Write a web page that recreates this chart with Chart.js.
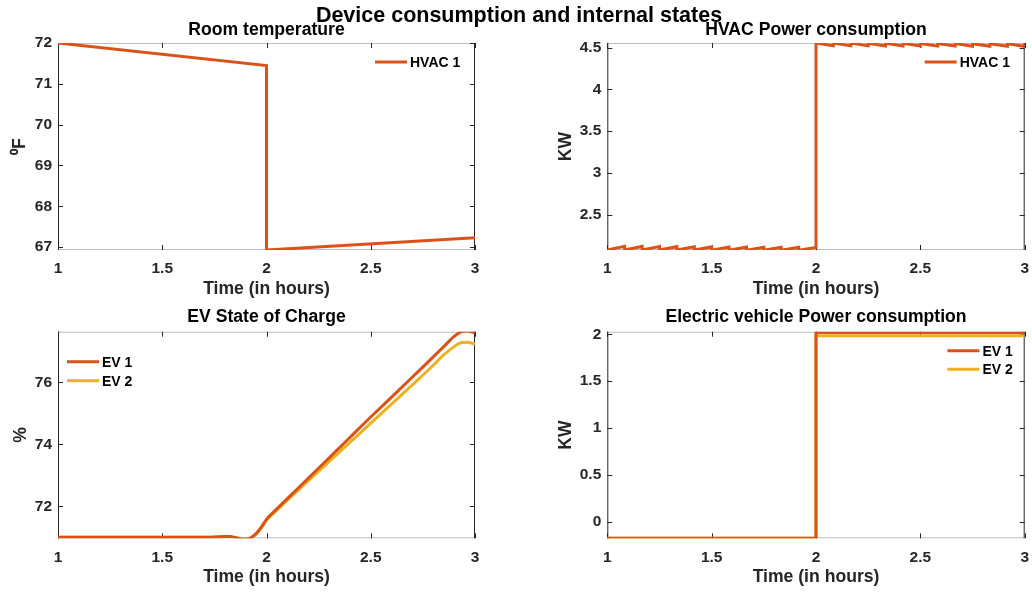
<!DOCTYPE html>
<html>
<head>
<meta charset="utf-8">
<script src="https://cdn.jsdelivr.net/npm/chart.js@4/dist/chart.umd.min.js"></script>
<style>
  html, body { margin: 0; padding: 0; background: #fff; }
  #fig { position: relative; width: 1032px; height: 594px; overflow: hidden; background: #fff; }
  #suptitle { position: absolute; left: 3px; top: 3px; width: 1032px; text-align: center;
    font: bold 21.5px "Liberation Sans", Arial, sans-serif; line-height: 24px; color: #000; z-index: 2; }
  .pane { position: absolute; }
</style>
</head>
<body>
<div id="fig">
  <div class="pane" style="left:0;top:0"><canvas id="room" width="533" height="300"></canvas></div>
  <div class="pane" style="left:516px;top:0"><canvas id="hvac" width="600" height="300"></canvas></div>
  <div class="pane" style="left:0;top:300px"><canvas id="soc" width="533" height="294"></canvas></div>
  <div class="pane" style="left:516px;top:300px"><canvas id="evp" width="600" height="294"></canvas></div>
  <div id="suptitle">Device consumption and internal states</div>
</div>
<script>
// ---- simulation output (time in hours) ----
const xTicks = [1, 1.5, 2, 2.5, 3];

// room temperature, HVAC 1 (deg F)
const roomTime = [1, 2, 2, 3];
const roomTemp = [72, 71.45, 66.93, 67.23];

// HVAC 1 power draw (kW), thermostat cycling every 5 minutes
const hvacTime = [1, 1.083, 1.083, 1.167, 1.167, 1.25, 1.25, 1.333, 1.333, 1.417, 1.417,
  1.5, 1.5, 1.583, 1.583, 1.667, 1.667, 1.75, 1.75, 1.833, 1.833, 1.917, 1.917, 2, 2,
  2.083, 2.083, 2.167, 2.167, 2.25, 2.25, 2.333, 2.333, 2.417, 2.417, 2.5, 2.5,
  2.583, 2.583, 2.667, 2.667, 2.75, 2.75, 2.833, 2.833, 2.917, 2.917, 3, 3];
const hvacPower = [2.075, 2.12, 2.075, 2.118, 2.075, 2.117, 2.074, 2.115, 2.074, 2.114, 2.074,
  2.112, 2.073, 2.111, 2.073, 2.11, 2.073, 2.109, 2.072, 2.108, 2.072, 2.107, 2.072, 2.106, 4.555,
  4.522, 4.555, 4.521, 4.554, 4.521, 4.553, 4.52, 4.552, 4.52, 4.551, 4.519, 4.55,
  4.518, 4.549, 4.518, 4.548, 4.517, 4.547, 4.516, 4.546, 4.516, 4.545, 4.515, 4.544];

// EV state of charge (%)
const socTime = [1, 1.5, 1.7, 1.78, 1.82, 1.86, 1.89, 1.92, 1.95, 1.98, 2.0, 2.05, 2.1,
  2.2, 2.3, 2.4, 2.5, 2.6, 2.7, 2.8, 2.85, 2.9, 2.93, 2.96, 3.0];
const ev1Soc = [71.0, 71.0, 71.0, 71.02, 71.03, 70.98, 70.94, 70.97, 71.12, 71.38, 71.58, 71.92, 72.25,
  72.9, 73.56, 74.22, 74.88, 75.52, 76.17, 76.82, 77.15, 77.48, 77.62, 77.65, 77.6];
const ev2Soc = [71.0, 71.0, 71.0, 71.02, 71.03, 70.98, 70.94, 70.97, 71.1, 71.35, 71.55, 71.88, 72.2,
  72.82, 73.44, 74.06, 74.68, 75.3, 75.92, 76.55, 76.88, 77.15, 77.27, 77.29, 77.24];

// EV charger power (kW)
const evTime = [1, 2, 2, 3];
const ev1Power = [-0.177, -0.177, 2.021, 2.021];
const ev2Power = [-0.177, -0.177, 1.985, 1.985];

const RED = '#D95319';
const YELLOW = '#EDB120';
const FONT = '"Liberation Sans", Arial, sans-serif';
const INK = '#262626';

Chart.defaults.font.family = FONT;
Chart.defaults.color = INK;

const pts = (t, v) => t.map((x, i) => ({ x, y: v[i] }));
const plainNum = v => String(Math.round(v * 1000) / 1000);

// axes box with inward tick marks on all four sides
const boxPlugin = {
  id: 'axesBox',
  beforeDatasetsDraw(chart) {
    const { ctx, chartArea: a, scales: { x, y } } = chart;
    ctx.save();
    ctx.lineWidth = 1;
    ctx.strokeStyle = '#bcbcbc';
    ctx.beginPath();
    ctx.moveTo(a.left, a.top + 0.5); ctx.lineTo(a.right, a.top + 0.5);
    ctx.moveTo(a.left, a.bottom - 0.5); ctx.lineTo(a.right, a.bottom - 0.5);
    ctx.stroke();
    ctx.strokeStyle = INK;
    ctx.beginPath();
    ctx.moveTo(a.left + 0.5, a.top); ctx.lineTo(a.left + 0.5, a.bottom);
    ctx.moveTo(a.right - 0.5, a.top); ctx.lineTo(a.right - 0.5, a.bottom);
    x.ticks.forEach(t => {
      const px = Math.round(x.getPixelForValue(t.value)) + 0.5;
      ctx.moveTo(px, a.bottom); ctx.lineTo(px, a.bottom - 5);
      ctx.moveTo(px, a.top); ctx.lineTo(px, a.top + 5);
    });
    y.ticks.forEach(t => {
      const py = Math.round(y.getPixelForValue(t.value)) + 0.5;
      ctx.moveTo(a.left, py); ctx.lineTo(a.left + 5, py);
      ctx.moveTo(a.right, py); ctx.lineTo(a.right - 5, py);
    });
    ctx.stroke();
    ctx.restore();
  }
};

// line-sample legend placed inside the axes
const legendPlugin = {
  id: 'insideLegend',
  afterDatasetsDraw(chart, args, opts) {
    const { ctx, chartArea: a } = chart;
    const x0 = opts.fromRight != null ? a.right - opts.fromRight : a.left + opts.fromLeft;
    ctx.save();
    ctx.font = 'bold 14px ' + FONT;
    ctx.textBaseline = 'middle';
    ctx.textAlign = 'left';
    chart.data.datasets.forEach((ds, i) => {
      const yy = a.top + opts.top + i * opts.step;
      ctx.strokeStyle = ds.borderColor;
      ctx.lineWidth = 3;
      ctx.beginPath(); ctx.moveTo(x0, yy); ctx.lineTo(x0 + 32, yy); ctx.stroke();
      ctx.fillStyle = '#000';
      ctx.fillText(ds.label, x0 + 35, yy + 1);
    });
    ctx.restore();
  }
};

function makePanel(id, g) {
  const datasets = g.series.map(s => ({
    label: s.label,
    data: pts(s.t, s.v),
    borderColor: s.color,
    backgroundColor: s.color,
    borderWidth: 3,
    pointRadius: 0,
    fill: false,
    cubicInterpolationMode: s.smooth ? 'monotone' : 'default',
    tension: 0
  }));
  return new Chart(document.getElementById(id), {
    type: 'line',
    data: { datasets },
    plugins: [boxPlugin, legendPlugin],
    options: {
      responsive: false,
      animation: false,
      devicePixelRatio: 1,
      layout: { padding: { left: 0, right: 0, top: 0, bottom: 0 } },
      plugins: {
        legend: { display: false },
        tooltip: { enabled: false },
        title: {
          display: true, text: g.title, color: '#000',
          font: { size: 17.6, weight: 'bold', family: FONT, lineHeight: 1.2 },
          padding: { top: g.titleTop, bottom: g.titleBottom }
        },
        insideLegend: g.legend
      },
      scales: {
        x: {
          type: 'linear', min: 1, max: 3,
          afterBuildTicks: s => { s.ticks = xTicks.map(v => ({ value: v })); },
          grid: { display: false, drawTicks: false },
          border: { display: false },
          ticks: { font: { size: 15.5, weight: 'bold' }, color: INK, padding: g.xTickPad,
            maxRotation: 0, autoSkip: false, callback: plainNum },
          title: {
            display: true, text: 'Time (in hours)', color: INK,
            font: { size: 17.6, weight: 'bold', lineHeight: 1.2 },
            padding: { top: 0, bottom: g.xTitleBottom }
          },
          afterFit: s => { s.height = g.xHeight; s.paddingLeft = 0; s.paddingRight = 0; }
        },
        y: {
          type: 'linear', min: g.yMin, max: g.yMax,
          grid: { display: false, drawTicks: false },
          border: { display: false },
          ticks: { stepSize: g.yStep, includeBounds: false, font: { size: 15.5, weight: 'bold' },
            color: INK, padding: 6, callback: plainNum },
          title: {
            display: true, text: g.yTitle, color: INK,
            font: { size: 17.6, weight: 'bold', lineHeight: 1.2 },
            padding: { top: g.yTitleTop, bottom: 0 }
          },
          afterFit: s => { s.width = g.yWidth; s.paddingTop = 0; s.paddingBottom = 0; }
        },
        // blank right-hand margin, same width as the left axis, so the title centres over the axes
        yPad: {
          type: 'linear', position: 'right', display: true,
          grid: { display: false, drawTicks: false },
          border: { display: false },
          ticks: { display: false },
          afterFit: s => { s.width = g.yWidth; s.paddingTop = 0; s.paddingBottom = 0; }
        }
      }
    }
  });
}

makePanel('room', {
  title: 'Room temperature', titleTop: 19.4, titleBottom: 2.5,
  yWidth: 58, xHeight: 50, xTitleBottom: 0, yTitleTop: 9.4, xTickPad: 9,
  yMin: 66.93, yMax: 72, yStep: 1, yTitle: '\u2070F',
  legend: { fromRight: 100, top: 19, step: 19 },
  series: [{ label: 'HVAC 1', t: roomTime, v: roomTemp, color: RED }]
});

makePanel('hvac', {
  title: 'HVAC Power consumption', titleTop: 19.4, titleBottom: 2.5,
  yWidth: 91.3, xHeight: 50, xTitleBottom: 0, yTitleTop: 39.1, xTickPad: 9,
  yMin: 2.075, yMax: 4.555, yStep: 0.5, yTitle: 'KW',
  legend: { fromRight: 100, top: 19, step: 19 },
  series: [{ label: 'HVAC 1', t: hvacTime, v: hvacPower, color: RED }]
});

makePanel('soc', {
  title: 'EV State of Charge', titleTop: 6.7, titleBottom: 3.9,
  yWidth: 58, xHeight: 55.7, xTitleBottom: 6.1, yTitleTop: 10.1, xTickPad: 10,
  yMin: 70.97, yMax: 77.63, yStep: 2, yTitle: '%',
  legend: { fromLeft: 9, top: 30, step: 19 },
  series: [
    { label: 'EV 1', t: socTime, v: ev1Soc, color: RED, smooth: true },
    { label: 'EV 2', t: socTime, v: ev2Soc, color: YELLOW, smooth: true }
  ]
});

makePanel('evp', {
  title: 'Electric vehicle Power consumption', titleTop: 6.7, titleBottom: 3.9,
  yWidth: 91.3, xHeight: 55.7, xTitleBottom: 6.1, yTitleTop: 39.1, xTickPad: 10,
  yMin: -0.177, yMax: 2.028, yStep: 0.5, yTitle: 'KW',
  legend: { fromRight: 77.3, top: 19, step: 18.6 },
  series: [
    { label: 'EV 1', t: evTime, v: ev1Power, color: RED },
    { label: 'EV 2', t: evTime, v: ev2Power, color: YELLOW }
  ]
});
</script>
</body>
</html>
